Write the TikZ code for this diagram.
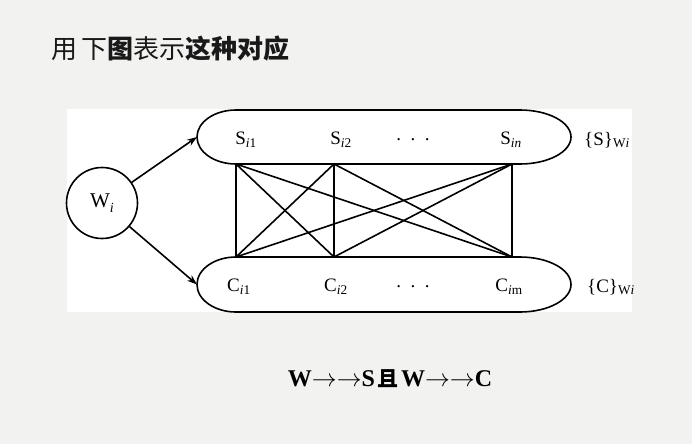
\documentclass[tikz,border=0pt]{standalone}
\usepackage{fontspec}
\setmainfont{Liberation Serif}
\newfontfamily\cjk{Noto Sans CJK SC}
\usetikzlibrary{arrows.meta}
\definecolor{bg}{RGB}{242,242,241}
\begin{document}
\begin{tikzpicture}[x=1pt,y=-1pt,
  lab/.style={font=\fontsize{19}{19}\selectfont, inner sep=0pt},
  ln/.style={line width=1.6pt, black},
  arr/.style={ln, -{Stealth[length=10pt,width=7pt]}}]
\fill[bg] (0,0) rectangle (692,444);
\useasboundingbox (0,0) rectangle (692,444);
\fill[white] (67,109) rectangle (632,312);
\node[anchor=west, inner sep=0pt, font=\cjk\fontsize{26}{26}\selectfont, text=black!90] (title) at (51,49) {用\,下\textbf{图}表示\textbf{这种对应}};
% containers
\draw[ln] (236,110) -- (520,110) arc[start angle=-90,end angle=90,x radius=51,y radius=27] -- (236,164) arc[start angle=90,end angle=270,x radius=39,y radius=27] -- cycle;
\draw[ln] (236,257) -- (520,257) arc[start angle=-90,end angle=90,x radius=51,y radius=27.5] -- (236,312) arc[start angle=90,end angle=270,x radius=39,y radius=27.5] -- cycle;
\coordinate (sl) at (197,137);
\coordinate (cl) at (197,284.5);
% grid points
\coordinate (t1) at (236,164);
\coordinate (t2) at (334,164);
\coordinate (t3) at (512,164);
\coordinate (b1) at (236,257);
\coordinate (b2) at (334,257);
\coordinate (b3) at (512,257);
\foreach \a in {1,2,3}{\foreach \b in {1,2,3}{\draw[ln] (t\a) -- (b\b);}}
% circle
\node[circle, draw, ln, minimum size=71pt, inner sep=0pt, font=\fontsize{21}{21}\selectfont] (w) at (102,203) {W\raisebox{-5pt}{\fontsize{14}{14}\selectfont\textit{i}}};
\draw[arr] (w) -- (sl);
\draw[arr] (w) -- (cl);
% labels
\node[lab] (s1) at (246,140) {S\textsubscript{\textit{i}1}};
\node[lab] (s2) at (341,140) {S\textsubscript{\textit{i}2}};
\node[lab] (sd) at (413,140) {.\ \ .\ \ .};
\node[lab] (sn) at (511,140) {S\textsubscript{\textit{in}}};
\node[lab] (sw) at (607,140) {\{S\}\textsubscript{W\textit{i}}};
\node[lab] (c1) at (239,287) {C\textsubscript{\textit{i}1}};
\node[lab] (c2) at (336,287) {C\textsubscript{\textit{i}2}};
\node[lab] (cd) at (413,287) {.\ \ .\ \ .};
\node[lab] (cm) at (509,287) {C\textsubscript{\textit{i}m}};
\node[lab] (cw) at (611,287) {\{C\}\textsubscript{W\textit{i}}};
% formula
\node[inner sep=0pt, font=\bfseries\fontsize{24}{24}\selectfont] (f) at (390,379) {W\(\mathord{\rightarrow}\mathord{\rightarrow}\)S\hspace{2pt}{\cjk\bfseries\fontsize{21}{21}\selectfont 且}\hspace{3pt}W\(\mathord{\rightarrow}\mathord{\rightarrow}\)C};
\end{tikzpicture}
\end{document}
